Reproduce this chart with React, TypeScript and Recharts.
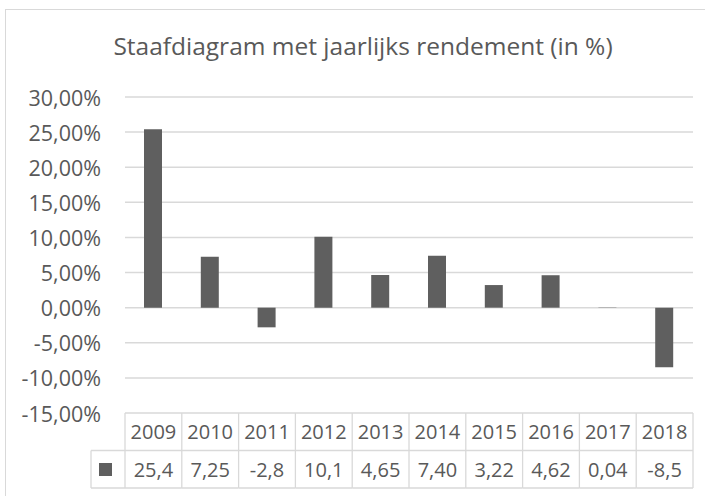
import React from "react";
import { BarChart, Bar, XAxis, YAxis, CartesianGrid } from "recharts";

const years = ["2009", "2010", "2011", "2012", "2013", "2014", "2015", "2016", "2017", "2018"];
const returns = [25.4, 7.25, -2.8, 10.1, 4.65, 7.4, 3.22, 4.62, 0.04, -8.5];
const returnLabels = ["25,4", "7,25", "-2,8", "10,1", "4,65", "7,40", "3,22", "4,62", "0,04", "-8,5"];
const yTicks = [-15, -10, -5, 0, 5, 10, 15, 20, 25, 30];
const title = "Staafdiagram met jaarlijks rendement (in %)";

const data = years.map((y, i) => ({ year: y, value: returns[i], label: returnLabels[i] }));

const W = 705;
const H = 496;
const PLOT_LEFT = 125;
const PLOT_RIGHT = 693;
const PLOT_TOP = 97;
const ROW_H = 37.5;
const COL_W = (PLOT_RIGHT - PLOT_LEFT) / years.length;
const LEGEND_W = 34;
const FONT = "'Open Sans', 'Noto Sans', sans-serif";
const TEXT = "#595959";
const GRID = "#d9d9d9";
const BAR = "#5f5f5f";

const fmt = (v: number) => v.toFixed(2).replace(".", ",") + "%";

const TableTick = (props: any) => {
  const { x, y, payload, index } = props;
  const idx = payload?.index ?? index;
  const left = x - COL_W / 2;
  const top = y;
  return (
    <g>
      <line x1={left + COL_W} y1={top} x2={left + COL_W} y2={top + 2 * ROW_H} stroke={GRID} strokeWidth={1.3} />
      {idx === 0 && (
        <g>
          <line x1={left} y1={top} x2={left} y2={top + 2 * ROW_H} stroke={GRID} strokeWidth={1.3} />
          <line x1={left - LEGEND_W} y1={top + ROW_H} x2={left} y2={top + ROW_H} stroke={GRID} strokeWidth={1.3} />
          <line x1={left - LEGEND_W} y1={top + ROW_H} x2={left - LEGEND_W} y2={top + 2 * ROW_H} stroke={GRID} strokeWidth={1.3} />
          <line x1={left - LEGEND_W} y1={top + 2 * ROW_H} x2={left} y2={top + 2 * ROW_H} stroke={GRID} strokeWidth={1.3} />
          <rect x={left - LEGEND_W + 8} y={top + ROW_H + 12.5} width={13} height={13} fill={BAR} />
        </g>
      )}
      <line x1={left} y1={top + ROW_H} x2={left + COL_W} y2={top + ROW_H} stroke={GRID} strokeWidth={1.3} />
      <line x1={left} y1={top + 2 * ROW_H} x2={left + COL_W} y2={top + 2 * ROW_H} stroke={GRID} strokeWidth={1.3} />
      <text x={x} y={top + ROW_H / 2} textAnchor="middle" dominantBaseline="central" fill={TEXT} fontSize={20} fontFamily={FONT}>
        {years[idx]}
      </text>
      <text x={x} y={top + ROW_H * 1.5} textAnchor="middle" dominantBaseline="central" fill={TEXT} fontSize={20} fontFamily={FONT}>
        {returnLabels[idx]}
      </text>
    </g>
  );
};

const YTick = (props: any) => {
  const { x, y, payload } = props;
  return (
    <text x={x} y={y} textAnchor="end" dominantBaseline="central" fill={TEXT} fontSize={21.5} fontFamily={FONT}>
      {fmt(payload.value)}
    </text>
  );
};

export default function App() {
  return (
    <div style={{ position: "absolute", left: 0, top: 0, width: W, height: H, overflow: "hidden", background: "#fff" }}>
      <div
        style={{
          position: "absolute",
          left: 5,
          top: 9,
          width: 740,
          height: 520,
          border: `1.5px solid ${GRID}`,
          boxSizing: "border-box",
        }}
      />
      <svg width={W} height={80} style={{ position: "absolute", left: 0, top: 0 }}>
        <text x={363} y={55} textAnchor="middle" fill={TEXT} fontSize={24.5} fontFamily={FONT}>
          {title}
        </text>
      </svg>
      <div style={{ position: "absolute", left: 0, top: 0 }}>
        <BarChart
          width={W}
          height={H}
          data={data}
          margin={{ top: PLOT_TOP, right: W - PLOT_RIGHT, bottom: H - PLOT_TOP - 316 - 2 * ROW_H, left: 0 }}
          barSize={18}
        >
          <CartesianGrid horizontal vertical={false} stroke={GRID} strokeWidth={1.5} />
          <YAxis
            type="number"
            domain={[-15, 30]}
            ticks={yTicks}
            width={PLOT_LEFT}
            axisLine={false}
            tickLine={false}
            tickSize={0}
            tickMargin={24}
            tick={<YTick />}
            interval={0}
          />
          <XAxis
            dataKey="year"
            height={2 * ROW_H}
            axisLine={false}
            tickLine={false}
            tickSize={0}
            tickMargin={0}
            interval={0}
            tick={<TableTick />}
          />
          <Bar dataKey="value" fill={BAR} isAnimationActive={false} />
        </BarChart>
      </div>
    </div>
  );
}
